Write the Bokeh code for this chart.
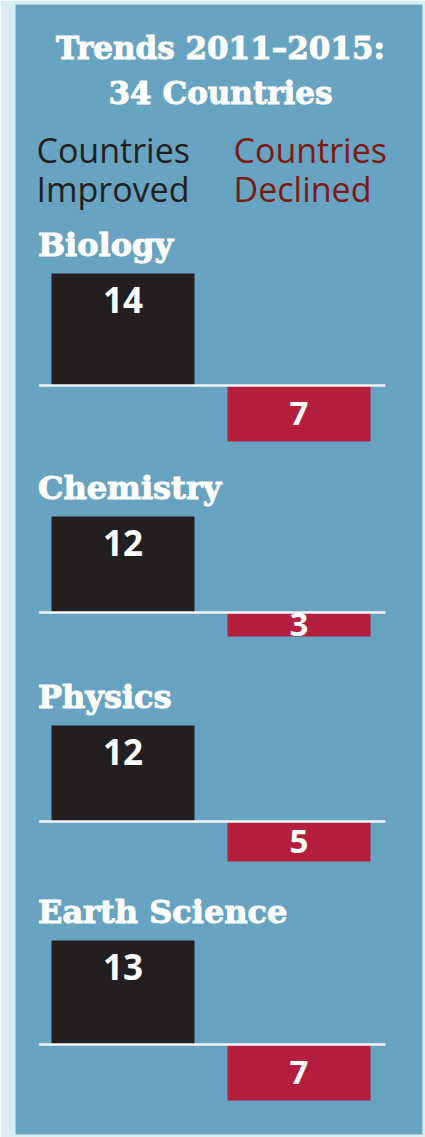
from bokeh.plotting import figure
from bokeh.models import Range1d, ColumnDataSource
from bokeh.core.properties import value
from bokeh.embed import file_html
from bokeh.resources import INLINE

# ---- data ----
subjects = ["Biology", "Chemistry", "Physics", "Earth Science"]
improved = [14, 12, 12, 13]
declined = [7, 3, 5, 7]
title_lines = ["Trends 2011\u20132015:", "34 Countries"]
legend_improved = ["Countries", "Improved"]
legend_declined = ["Countries", "Declined"]

# ---- layout / style ----
W, H = 425, 1137
BLUE = "#68a3c2"
CYAN = "#d6edf1"
BLACK = "#231f20"
RED = "#b31f3c"
DARKRED = "#7c1a12"
SLAB = value("DejaVu Serif")
SANS = value("Open Sans")

# y unit = one country (8 px); x unit = distance between the two bar centres
group_base = [93.625, 65.25, 39.125, 11.25]
bar_w = 0.8125

p = figure(width=W, height=H, output_backend="svg", toolbar_location=None,
           x_range=Range1d(-0.6108, 1.7017), y_range=Range1d(0, 141.25),
           x_axis_location=None, y_axis_location=None,
           background_fill_color=BLUE, border_fill_color=CYAN,
           outline_line_color=None, min_border=0,
           min_border_left=15, min_border_right=3,
           min_border_top=4, min_border_bottom=3)
p.grid.visible = False

tops_i = [b + v for b, v in zip(group_base, improved)]
bots_d = [b - v for b, v in zip(group_base, declined)]

src = ColumnDataSource(dict(base=group_base, imp=improved, dec=declined,
                            top_i=tops_i, bot_d=bots_d,
                            xi=[0] * 4, xd=[1] * 4))

p.vbar(x="xi", bottom="base", top="top_i", width=bar_w, source=src,
       fill_color=BLACK, line_color=None)
p.vbar(x="xd", bottom="bot_d", top="base", width=bar_w, source=src,
       fill_color=RED, line_color=None)
p.segment(x0=[-0.476] * 4, x1=[1.491] * 4, y0=group_base, y1=group_base,
          line_color="#f4f4f4", line_width=2.5)

# value labels
p.text(x=[0] * 4, y=[t - 3.25 for t in tops_i], text=[str(v) for v in improved],
       text_font=SANS, text_font_style="bold", text_font_size="35px",
       text_color="white", text_align="center", text_baseline="middle")
p.text(x=[1] * 4, y=[(b + d) / 2 for b, d in zip(group_base, bots_d)],
       text=[str(v) for v in declined],
       text_font=SANS, text_font_style="bold", text_font_size="33px",
       text_color="white", text_align="center", text_baseline="middle")

# subject headers
p.text(x=[-0.483] * 4, y=[t + 3.55 for t in tops_i], text=subjects,
       text_font=SLAB, text_font_style="bold", text_font_size="32px",
       text_color="white", text_outline_color="white",
       text_align="left", text_baseline="middle")

# title
p.text(x=[0.554] * 2, y=[135.875, 130.25], text=title_lines,
       text_font=SLAB, text_font_style="bold", text_font_size="31px",
       text_color="white", text_outline_color="white",
       text_align="center", text_baseline="middle")

# legend
p.text(x=[-0.4915] * 2, y=[123.06, 118.19], text=legend_improved,
       text_font=SANS, text_font_size="34px", text_color=BLACK,
       text_align="left", text_baseline="middle")
p.text(x=[0.628] * 2, y=[123.06, 118.19], text=legend_declined,
       text_font=SANS, text_font_size="34px", text_color=DARKRED,
       text_align="left", text_baseline="middle")

open("out.html", "w").write(file_html(p, INLINE))
